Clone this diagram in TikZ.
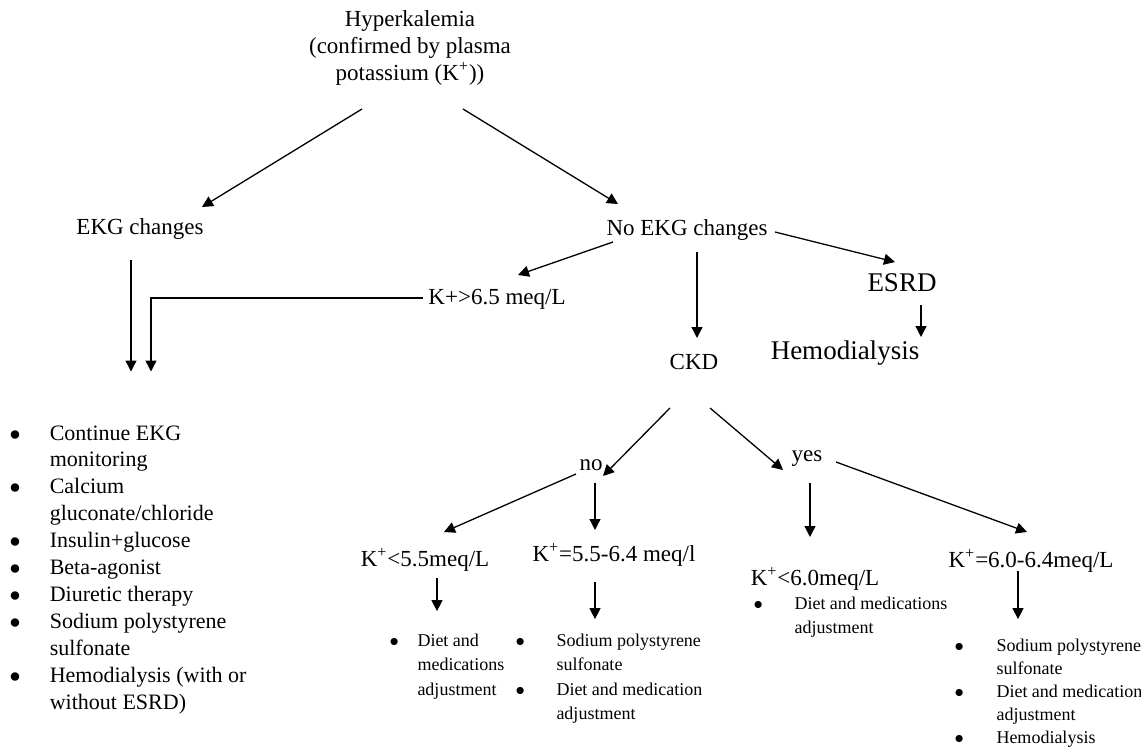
\documentclass[tikz,border=0pt]{standalone}
\usepackage{fontspec}
\setmainfont{Liberation Serif}
\usetikzlibrary{
        arrows.meta,
        positioning
    }
\tikzset{>={Triangle[length=5.5pt,width=5.5pt]},auto}
\tikzset{lbl/.style={inner sep=0pt,font=\fontsize{11.5}{13.5}\selectfont}}
\tikzset{big/.style={inner sep=0pt,font=\fontsize{13.5}{16}\selectfont}}
\tikzset{tips/.style={inner sep=0pt,anchor=base west,font=\fontsize{9}{#1}\selectfont}}
\newcommand{\bul}{$\bullet$}

\begin{document}
\begin{tikzpicture}[x=0.5pt,y=-0.5pt,line width=0.65pt]
                \useasboundingbox (0,0) rectangle (1141,749);
                % top levels
                \node[lbl,align=center] (hk) at (410,48) {Hyperkalemia\\(confirmed by plasma\\potassium (K\textsuperscript{+}))};
                \node[lbl] (ekg)   at (140,229) {EKG changes};
                \node[lbl] (noekg) at (687,230) {No EKG changes};
                \node[lbl] (khi)   at (497,299) {K+>6.5 meq/L};
                \node[lbl] (ckd)   at (694,362) {CKD};
                \node[big] (esrd)  at (902,283) {ESRD};
                \node[big] (hd)    at (845,353) {Hemodialysis};
                \node[lbl] (no)    at (591,465) {no};
                \node[lbl] (yes)   at (807,459) {yes};
                % potassium levels
                \node[lbl] (k1) at (425,560)  {K\textsuperscript{+}<5.5meq/L};
                \node[lbl] (k2) at (614,555)  {K\textsuperscript{+}=5.5-6.4 meq/l};
                \node[lbl] (k3) at (815,579)  {K\textsuperscript{+}<6.0meq/L};
                \node[lbl] (k4) at (1031,561) {K\textsuperscript{+}=6.0-6.4meq/L};
                % treatments
                \node[tips=13.45,font=\fontsize{11}{13.45}\selectfont] (l0) at (9,440)
                    {\begin{tabular}[t]{@{}l@{\hspace{14.6pt}}l@{}}
                    \bul & Continue EKG\\ & monitoring\\
                    \bul & Calcium\\ & gluconate/chloride\\
                    \bul & Insulin+glucose\\
                    \bul & Beta-agonist\\
                    \bul & Diuretic therapy\\
                    \bul & Sodium polystyrene\\ & sulfonate\\
                    \bul & Hemodialysis (with or\\ & without ESRD)
                    \end{tabular}};
                \node[tips=12.3] (l1) at (389,646)
                    {\begin{tabular}[t]{@{}l@{\hspace{9.3pt}}l@{}}
                    \bul & Diet and\\ & medications\\ & adjustment
                    \end{tabular}};
                \node[tips=12.3] (l2) at (515,646)
                    {\begin{tabular}[t]{@{}l@{\hspace{15.8pt}}l@{}}
                    \bul & Sodium polystyrene\\ & sulfonate\\
                    \bul & Diet and medication\\ & adjustment
                    \end{tabular}};
                \node[tips=12] (l3) at (753,609)
                    {\begin{tabular}[t]{@{}l@{\hspace{15.8pt}}l@{}}
                    \bul & Diet and medications\\ & adjustment
                    \end{tabular}};
                \node[tips=11.6] (l4) at (954,651)
                    {\begin{tabular}[t]{@{}l@{\hspace{16.3pt}}l@{}}
                    \bul & Sodium polystyrene\\ & sulfonate\\
                    \bul & Diet and medication\\ & adjustment\\
                    \bul & Hemodialysis
                    \end{tabular}};
                \path[->]
                    ([shift={(-48,61)}]hk.center)    edge ([shift={(62,-22)}]ekg.center)
                    ([shift={(53,61)}]hk.center)     edge ([shift={(-69,-26)}]noekg.center)
                    ([shift={(-74,12)}]noekg.center) edge ([shift={(21,-24)}]khi.center)
                    ([shift={(10,22)}]noekg.center)  edge ([shift={(3,-24)}]ckd.center)
                    ([shift={(88,2)}]noekg.center)   edge ([shift={(-7,-21)}]esrd.center)
                    ([shift={(19,22)}]esrd.center)   edge ([shift={(76,-16)}]hd.center)
                    ([shift={(-9,31)}]ekg.center)    edge ([shift={(122,-49)}]l0.north west)
                    ([shift={(-24,46)}]ckd.center)   edge ([shift={(12,11)}]no.center)
                    ([shift={(16,46)}]ckd.center)    edge ([shift={(-24,11)}]yes.center)
                    ([shift={(-15,9)}]no.center)     edge ([shift={(19,-28)}]k1.center)
                    ([shift={(4,18)}]no.center)      edge ([shift={(-19,-25)}]k2.center)
                    ([shift={(3,24)}]yes.center)     edge ([shift={(-5,-42)}]k3.center)
                    ([shift={(29,3)}]yes.center)     edge ([shift={(-4,-29)}]k4.center)
                    ([shift={(12,18)}]k1.center)     edge ([shift={(48,-17)}]l1.north west)
                    ([shift={(-19,27)}]k2.center)    edge ([shift={(80,-9)}]l2.north west)
                    ([shift={(-13,10)}]k4.center)    edge ([shift={(64,-15)}]l4.north west)
                ;
                \draw[->] ([shift={(-74,-1)}]khi.center) -| ([shift={(142,-49)}]l0.north west);
            \end{tikzpicture}
\end{document}
